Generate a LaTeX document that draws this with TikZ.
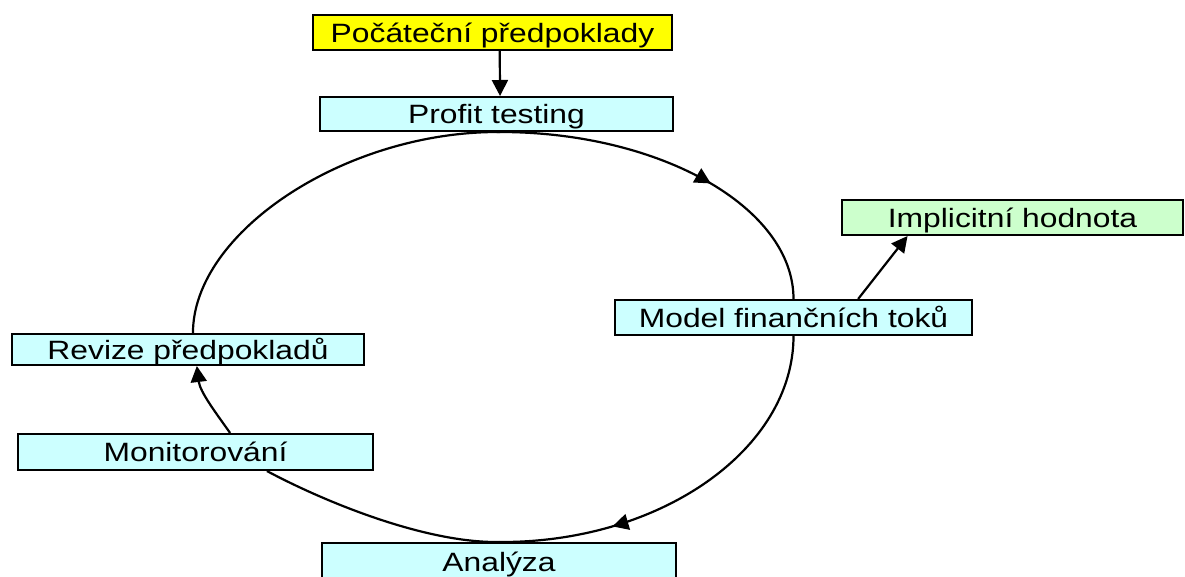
\documentclass[tikz,border=0pt]{standalone}
\usepackage{fontspec}
\setmainfont[FakeStretch=1.2]{Liberation Sans}
\usetikzlibrary{calc,arrows.meta,decorations.markings}
\definecolor{boxcyan}{HTML}{CCFFFF}
\definecolor{boxgreen}{HTML}{CCFFCC}
\definecolor{boxyellow}{HTML}{FFFF00}
\begin{document}
\begin{tikzpicture}[x=1pt,y=-1pt,
  box/.style={draw=black, line width=2pt, inner sep=0pt, text height=19pt, text depth=0pt, font=\fontsize{26.5}{29}\selectfont},
  link/.style={line width=2.2pt},
  tipped/.style={-{Triangle[length=16pt,width=16pt]}},
  midarrow/.style={postaction={decorate}, decoration={markings, mark=at position #1 with {\arrow{Triangle[length=16pt,width=16pt]}}}}]
\clip (0,0) rectangle (1185,576);
\fill[white] (0,0) rectangle (1185,576);

\node[box, fill=boxyellow, minimum width=359pt, minimum height=35pt] (pp) at (492.5,32.5) {Počáteční předpoklady};
\node[box, fill=boxcyan, minimum width=353pt, minimum height=34pt] (pt) at (496.5,114) {Profit testing};
\node[box, fill=boxgreen, minimum width=341pt, minimum height=35pt] (ih) at (1012.5,217.5) {Implicitní hodnota};
\node[box, fill=boxcyan, minimum width=357pt, minimum height=35pt] (mf) at (793.5,317.5) {Model finančních toků};
\node[box, fill=boxcyan, minimum width=352pt, minimum height=31pt] (rv) at (188,349.5) {Revize předpokladů};
\node[box, fill=boxcyan, minimum width=355pt, minimum height=36pt] (mo) at (195.5,452) {Monitorování};
\node[box, fill=boxcyan, minimum width=354pt, minimum height=38pt] (an) at (499,562) {Analýza};

% straight arrows
\draw[link, tipped] ($(pp.south west)!0.52!(pp.south east)$) -- ($(pt.north west)!0.51!(pt.north east)$);
\draw[link, tipped] ($(mf.north west)!0.68!(mf.north east)$) -- ($(ih.south west)!0.194!(ih.south east)$);

% cycle
\draw[link, midarrow=0.6] (pt.south) .. controls (659,131) and (793.5,207) .. (mf.north);
\draw[link, midarrow=0.71] (mf.south) .. controls (793.5,449) and (661,543) .. (an.north);
\draw[link] (an.north) .. controls (425,543) and (325,502) .. ($(mo.south west)!0.7!(mo.south east)$);
\draw[link, tipped] ($(mo.north west)!0.597!(mo.north east)$) .. controls (216,413) and (200,392) .. ($(rv.south west)!0.525!(rv.south east)$);
\draw[link] ($(rv.north west)!0.514!(rv.north east)$) .. controls (193,232) and (346,131) .. ($(pt.south west)!0.51!(pt.south east)$);
\end{tikzpicture}
\end{document}
